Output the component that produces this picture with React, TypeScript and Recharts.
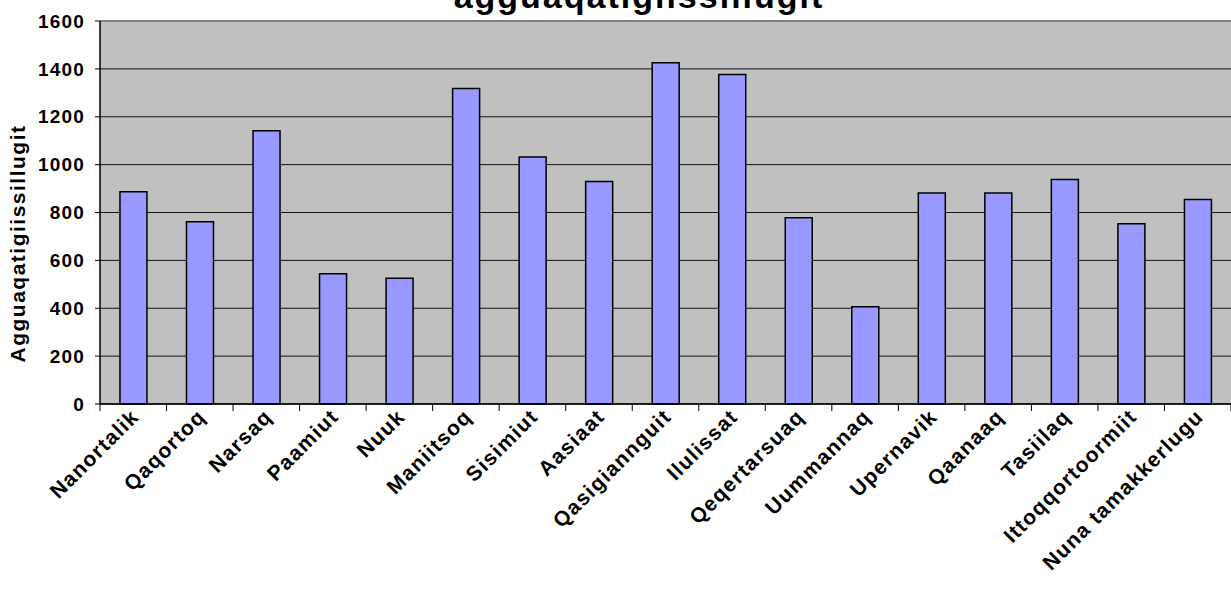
import { BarChart, Bar, XAxis, YAxis, CartesianGrid, ReferenceLine } from 'recharts'

const towns = [
  'Nanortalik', 'Qaqortoq', 'Narsaq', 'Paamiut', 'Nuuk', 'Maniitsoq', 'Sisimiut',
  'Aasiaat', 'Qasigiannguit', 'Ilulissat', 'Qeqertarsuaq', 'Uummannaq', 'Upernavik',
  'Qaanaaq', 'Tasiilaq', 'Ittoqqortoormiit', 'Nuna tamakkerlugu',
]
const averages = [887, 761, 1142, 544, 525, 1318, 1032, 930, 1426, 1377, 778, 406, 881, 881, 938, 753, 854]
const yTicks = [0, 200, 400, 600, 800, 1000, 1200, 1400, 1600]

const chartData = towns.map((name, i) => ({ name, value: averages[i] }))

const FONT = 'Arial, "Liberation Sans", sans-serif'

// category label plus the tick marks on the band edges (Excel style)
function TownTick({ x, y, payload, index }: any) {
  const half = payload.offset ?? 0
  const axisY = y - 8
  const tx = x + 7
  const ty = y + 6
  return (
    <g>
      <line x1={x - half} x2={x - half} y1={axisY} y2={axisY + 7} stroke="#000" />
      {index === towns.length - 1 && (
        <line x1={x + half} x2={x + half} y1={axisY} y2={axisY + 7} stroke="#000" />
      )}
      <text
        x={tx}
        y={ty}
        transform={`rotate(-45, ${tx}, ${ty})`}
        textAnchor="end"
        fontFamily={FONT}
        fontWeight="bold"
        fontSize={21}
        letterSpacing={1.3}
        fill="#000"
      >
        {payload.value}
      </text>
    </g>
  )
}

function YTitle({ viewBox }: any) {
  const cy = viewBox.y + viewBox.height / 2 + 31
  return (
    <text
      x={25}
      y={cy}
      transform={`rotate(-90, 25, ${cy})`}
      textAnchor="middle"
      fontFamily={FONT}
      fontWeight="bold"
      fontSize={21}
      letterSpacing={1.5}
      fill="#000"
    >
      Agguaqatigiissillugit
    </text>
  )
}

export default function App() {
  return (
    <div style={{ position: 'absolute', left: 0, top: 0, width: 1231, height: 599, background: '#fff', overflow: 'hidden' }}>
      <div
        style={{
          position: 'absolute', left: 339, top: -21, width: 600, textAlign: 'center',
          fontFamily: FONT, fontWeight: 'bold', fontSize: 34, lineHeight: '34px', letterSpacing: 2,
        }}
      >
        agguaqatigiissillugit
      </div>
      <BarChart
        width={1231}
        height={599}
        data={chartData}
        margin={{ top: 21, right: 0, bottom: 0, left: 0 }}
        barCategoryGap="30%"
      >
        <CartesianGrid vertical={false} stroke="#000" fill="#c0c0c0" strokeOpacity={0.9} />
        <XAxis
          dataKey="name"
          interval={0}
          axisLine={{ stroke: '#000', strokeWidth: 1.5 }}
          tickLine={false}
          tickSize={0}
          tickMargin={8}
          tick={<TownTick />}
          height={195}
        />
        <YAxis
          domain={[0, 1600]}
          ticks={yTicks}
          width={100}
          tickSize={5}
          tickMargin={10}
          tickLine={{ stroke: '#000' }}
          axisLine={{ stroke: '#000', strokeWidth: 1.5 }}
          tick={{ fill: '#000', fontFamily: FONT, fontWeight: 'bold', fontSize: 19, letterSpacing: 1.2 }}
          label={<YTitle />}
        />
        <ReferenceLine y={1600} stroke="#808080" strokeWidth={2} />
        <Bar dataKey="value" fill="#9999ff" stroke="#000" strokeWidth={1.5} isAnimationActive={false} />
      </BarChart>
    </div>
  )
}
